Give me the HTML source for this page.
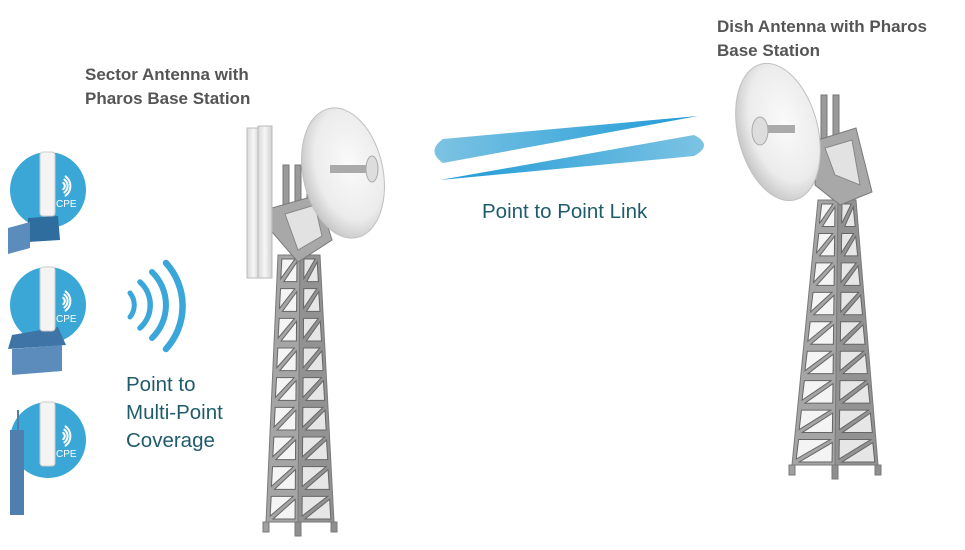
<!DOCTYPE html>
<html><head><meta charset="utf-8"><style>
html,body{margin:0;padding:0;background:#fff;}
svg{display:block}
.lbl{font-family:"Liberation Sans",sans-serif;font-weight:bold;font-size:17px;fill:#555}
.blue{font-family:"Liberation Sans",sans-serif;font-size:20.5px;fill:#1f5c6b}
</style></head><body>
<svg id="s" width="965" height="550" viewBox="0 0 965 550" xmlns="http://www.w3.org/2000/svg">
<defs>
<linearGradient id="b1" x1="0" x2="1" y1="0" y2="0"><stop offset="0" stop-color="#7cc3e3"/><stop offset="1" stop-color="#1f9ad5"/></linearGradient>
<linearGradient id="b2" x1="0" x2="1" y1="0" y2="0"><stop offset="0" stop-color="#1f9ad5"/><stop offset="1" stop-color="#7cc3e3"/></linearGradient>
<radialGradient id="dish" cx="0.6" cy="0.45" r="0.6"><stop offset="0" stop-color="#fafafa"/><stop offset="0.7" stop-color="#ececec"/><stop offset="1" stop-color="#c8c8c8"/></radialGradient>
<linearGradient id="sec" x1="0" x2="1"><stop offset="0" stop-color="#d8d8d8"/><stop offset="0.5" stop-color="#f6f6f6"/><stop offset="1" stop-color="#cfcfcf"/></linearGradient>
</defs>
<g id="towers"></g>
<!-- beams -->
<path d="M443,139 Q426,151 443,163 L698,116 Z" fill="url(#b1)"/>
<path d="M440,180 L694,135 Q714,145 694,156 Z" fill="url(#b2)"/>
<!-- waves -->
<g fill="none" stroke="#3aa6d9" stroke-linecap="round">
<path d="M130,293 A19,19 0 0 1 130,317" stroke-width="5"/>
<path d="M140,282 A31,31 0 0 1 140,328" stroke-width="5.5"/>
<path d="M152,272 A46,46 0 0 1 152,338" stroke-width="6"/>
<path d="M166,263 A64,64 0 0 1 166,349" stroke-width="6.5"/>
</g>
<!-- CPE icons -->
<g id="cpe"></g>
<text class="lbl" x="85" y="80">Sector Antenna with</text>
<text class="lbl" x="85" y="104">Pharos Base Station</text>
<text class="lbl" x="717" y="32">Dish Antenna with Pharos</text>
<text class="lbl" x="717" y="56">Base Station</text>
<text class="blue" x="482" y="218">Point to Point Link</text>
<text class="blue" x="126" y="391">Point to</text>
<text class="blue" x="126" y="419">Multi-Point</text>
<text class="blue" x="126" y="447">Coverage</text>
</svg>
<script>
var NS="http://www.w3.org/2000/svg";
function el(p,tag,at){var e=document.createElementNS(NS,tag);for(var k in at)e.setAttribute(k,at[k]);p.appendChild(e);return e;}
var T=document.getElementById('towers');
function tower(tl,tc,tr,bl,bc,br,top,bot,n){
  var g=el(T,'g',{stroke:'#7a7a7a','stroke-width':1,fill:'#a9a9a9'});
  function lerp(a,b,t){return a+(b-a)*t;}
  el(g,'polygon',{points:tl+','+top+' '+tc+','+top+' '+bc+','+bot+' '+bl+','+bot,fill:'#a5a5a5'});
  el(g,'polygon',{points:tc+','+top+' '+tr+','+top+' '+br+','+bot+' '+bc+','+bot,fill:'#929292'});
  for(var i=0;i<n;i++){
    var y0=lerp(top,bot,i/n)+3,y1=lerp(top,bot,(i+1)/n)-3,t0=(y0-top)/(bot-top),t1=(y1-top)/(bot-top);
    [[tl,tc,bl,bc],[tc,tr,bc,br]].forEach(function(f,j){
      var a0=lerp(f[0],f[2],t0)+4,b0=lerp(f[1],f[3],t0)-3,a1=lerp(f[0],f[2],t1)+4,b1=lerp(f[1],f[3],t1)-3;
      var c=j?'#e6e6e6':'#f4f4f4';
      el(g,'polygon',{points:a0+','+(y0+1)+' '+(b0-2)+','+(y0+1)+' '+a1+','+(y1-3),fill:c,stroke:'#666'});
      el(g,'polygon',{points:(b0)+','+(y0+4)+' '+(b1)+','+(y1)+' '+(a1+3)+','+(y1),fill:c,stroke:'#666'});
    });
  }
  el(g,'rect',{x:bl-3,y:bot,width:6,height:10,fill:'#a0a0a0'});
  el(g,'rect',{x:bc-3,y:bot,width:6,height:14,fill:'#8f8f8f'});
  el(g,'rect',{x:br-3,y:bot,width:6,height:10,fill:'#8f8f8f'});
  return g;
}
tower(278,300,320,266,298,334,255,522,9);
[286,298,310].forEach(function(x){el(T,'rect',{x:x-3,y:165,width:6,height:50,fill:'#9a9a9a',stroke:'#777'});});
el(T,'polygon',{points:'272,208 318,195 332,240 298,262 272,232',fill:'#a8a8a8',stroke:'#7a7a7a'});
el(T,'polygon',{points:'285,214 315,205 322,236 298,250',fill:'#e2e2e2',stroke:'#888'});
el(T,'rect',{x:247,y:128,width:13,height:150,fill:'url(#sec)',stroke:'#bbb'});
el(T,'rect',{x:258,y:126,width:14,height:152,fill:'url(#sec)',stroke:'#bbb'});
el(T,'ellipse',{cx:343,cy:173,rx:40,ry:66,transform:'rotate(-12 343 173)',fill:'url(#dish)',stroke:'#c0c0c0'});
el(T,'rect',{x:330,y:165,width:40,height:8,fill:'#aaa'});
el(T,'ellipse',{cx:372,cy:169,rx:6,ry:13,fill:'#ddd',stroke:'#aaa'});
tower(818,838,856,792,835,878,200,465,9);
[824,836].forEach(function(x){el(T,'rect',{x:x-3,y:95,width:6,height:45,fill:'#9a9a9a',stroke:'#777'});});
el(T,'polygon',{points:'818,140 856,128 872,192 840,205 815,185',fill:'#a8a8a8',stroke:'#7a7a7a'});
el(T,'polygon',{points:'825,148 852,140 860,185 835,175',fill:'#e2e2e2',stroke:'#888'});
el(T,'ellipse',{cx:778,cy:132,rx:40,ry:70,transform:'rotate(-14 778 132)',fill:'url(#dish)',stroke:'#c0c0c0'});
el(T,'rect',{x:760,y:125,width:35,height:8,fill:'#aaa'});
el(T,'ellipse',{cx:760,cy:131,rx:8,ry:14,fill:'#ddd',stroke:'#aaa'});
var C=document.getElementById('cpe');
[[48,190],[48,305],[48,440]].forEach(function(c,i){
  var x=c[0],y=c[1];
  el(C,'circle',{cx:x,cy:y,r:38,fill:'#3aa7d7'});
  if(i==0){
    el(C,'polygon',{points:(x-20)+','+(y+28)+' '+(x+10)+','+(y+26)+' '+(x+12)+','+(y+50)+' '+(x-20)+','+(y+52),fill:'#2f6d9e'});
    el(C,'polygon',{points:(x-40)+','+(y+38)+' '+(x-18)+','+(y+32)+' '+(x-18)+','+(y+58)+' '+(x-40)+','+(y+64),fill:'#5b8cbc'});
  }
  if(i==1){
    el(C,'polygon',{points:(x-36)+','+(y+30)+' '+(x+10)+','+(y+22)+' '+(x+18)+','+(y+40)+' '+(x-40)+','+(y+44),fill:'#3f74a6'});
    el(C,'polygon',{points:(x-36)+','+(y+44)+' '+(x+14)+','+(y+40)+' '+(x+14)+','+(y+66)+' '+(x-36)+','+(y+70),fill:'#5b8cbc'});
  }
  if(i==2){el(C,'rect',{x:x-38,y:y-10,width:14,height:85,fill:'#4f7fae'});el(C,'rect',{x:x-31,y:y-30,width:2,height:25,fill:'#4f7fae'});}
  el(C,'rect',{x:x-8,y:y-38,width:15,height:64,rx:3,fill:'#f4f4f4',stroke:'#ccc'});
  el(C,'text',{x:x+8,y:y+17,'font-family':'Liberation Sans,sans-serif','font-size':10,fill:'#fff'}).textContent='CPE';
  var w=el(C,'g',{fill:'none',stroke:'#fff','stroke-width':2,'stroke-linecap':'round'});
  [4,8,12].forEach(function(r){el(w,'path',{d:'M'+(x+14+r*0.3)+','+(y-4-r*0.8)+' A'+r+','+r+' 0 0 1 '+(x+14+r*0.3)+','+(y-4+r*0.8)});});
});
</script>
</body></html>
